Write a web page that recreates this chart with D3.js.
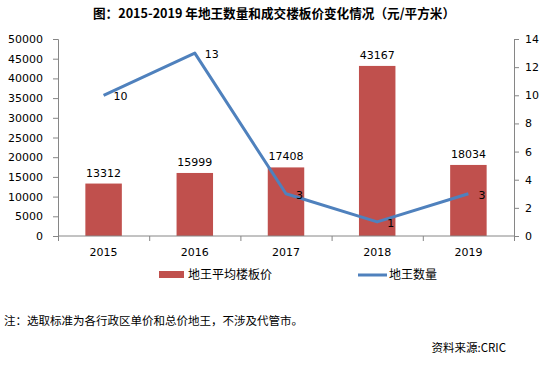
<!DOCTYPE html>
<html><head><meta charset="utf-8">
<script src="https://cdn.jsdelivr.net/npm/d3@7"></script>
<style>
body{margin:0;background:#fff;}
svg text{font-family:"Noto Sans CJK SC","Noto Sans",sans-serif;}
</style></head>
<body>
<svg id="c" width="548" height="369"></svg>
<script>
const categories = ["2015","2016","2017","2018","2019"];
const priceValues = [13312, 15999, 17408, 43167, 18034];
const countValues = [10, 13, 3, 1, 3];
const leftTicks = [0,5000,10000,15000,20000,25000,30000,35000,40000,45000,50000];
const rightTicks = [0,2,4,6,8,10,12,14];
const seriesNames = ["地王平均楼板价","地王数量"];
const titleText = "图：2015-2019 年地王数量和成交楼板价变化情况（元/平方米）";
const noteText = "注：选取标准为各行政区单价和总价地王，不涉及代管市。";
const sourceText = "资料来源:CRIC";

const svg = d3.select("#c");
const m = {left:58, right:514, top:39, bottom:236};
const axisColor = "#868686";
const barColor = "#C0504D", lineColor = "#4F81BD";

const x = d3.scaleBand().domain(categories).range([m.left, m.right]).paddingInner(0.6).paddingOuter(0.3);
const yL = d3.scaleLinear().domain([0,50000]).range([m.bottom, m.top]);
const yR = d3.scaleLinear().domain([0,14]).range([m.bottom, m.top]);

// title
svg.append("text").attr("x", 274).attr("y", 18).attr("text-anchor","middle")
  .attr("font-size", 12.8).attr("font-weight","bold").attr("fill","#000")
  .attr("textLength", 362).attr("lengthAdjust","spacingAndGlyphs").text(titleText);

// bars
svg.append("g").selectAll("rect").data(categories).join("rect")
  .attr("x", d => x(d)).attr("width", x.bandwidth())
  .attr("y", (d,i) => yL(priceValues[i])).attr("height", (d,i) => m.bottom - yL(priceValues[i]))
  .attr("fill", barColor);

// axes
const gL = svg.append("g").attr("transform", `translate(${m.left},0)`)
  .call(d3.axisLeft(yL).tickValues(leftTicks).tickSize(5).tickPadding(10).tickFormat(d3.format("d")));
const gR = svg.append("g").attr("transform", `translate(${m.right},0)`)
  .call(d3.axisRight(yR).tickValues(rightTicks).tickSize(5).tickPadding(6).tickFormat(d3.format("d")));
const xb = d3.scaleLinear().domain([0, categories.length]).range([m.left, m.right]);
const gX = svg.append("g").attr("transform", `translate(0,${m.bottom})`)
  .call(d3.axisBottom(xb).tickValues(d3.range(0, categories.length+1)).tickSize(5).tickFormat(""));
[gL,gR,gX].forEach(g => {
  g.select(".domain").attr("stroke", axisColor);
  g.selectAll(".tick line").attr("stroke", axisColor);
  g.selectAll(".tick text").attr("font-size", 11).attr("fill","#000")
    .style("font-family","'DejaVu Sans',sans-serif");
});
gX.select(".domain").attr("d", `M${m.left},0H${m.right}`);
// x labels
svg.append("g").selectAll("text").data(categories).join("text")
  .attr("x", d => x(d) + x.bandwidth()/2).attr("y", 256).attr("text-anchor","middle")
  .attr("font-size", 11).style("font-family","'DejaVu Sans',sans-serif").text(d => d);

// bar labels
svg.append("g").selectAll("text").data(categories).join("text")
  .attr("x", d => x(d) + x.bandwidth()/2).attr("y", (d,i) => yL(priceValues[i]) - 7)
  .attr("text-anchor","middle").attr("font-size", 11)
  .style("font-family","'DejaVu Sans',sans-serif").text((d,i) => priceValues[i]);

// line
const line = d3.line().x((d,i) => x(categories[i]) + x.bandwidth()/2).y(d => yR(d));
svg.append("path").datum(countValues).attr("d", line).attr("fill","none")
  .attr("stroke", lineColor).attr("stroke-width", 3).attr("stroke-linejoin","round");
svg.append("g").selectAll("text").data(countValues).join("text")
  .attr("x", (d,i) => x(categories[i]) + x.bandwidth()/2 + 10).attr("y", d => yR(d) + 5)
  .attr("font-size", 11).style("font-family","'DejaVu Sans',sans-serif").text(d => d);

// legend
svg.append("rect").attr("x", 159).attr("y", 271).attr("width", 25).attr("height", 7).attr("fill", barColor);
svg.append("text").attr("x", 188).attr("y", 279).attr("font-size", 12).text(seriesNames[0]);
svg.append("line").attr("x1", 358).attr("x2", 387).attr("y1", 275).attr("y2", 275)
  .attr("stroke", lineColor).attr("stroke-width", 3);
svg.append("text").attr("x", 389).attr("y", 279).attr("font-size", 12).text(seriesNames[1]);

// notes
svg.append("text").attr("x", 4).attr("y", 325).attr("font-size", 11.5).text(noteText);
svg.append("text").attr("x", 506).attr("y", 352).attr("text-anchor","end").attr("font-size", 11.5).text(sourceText);
</script>
</body></html>
